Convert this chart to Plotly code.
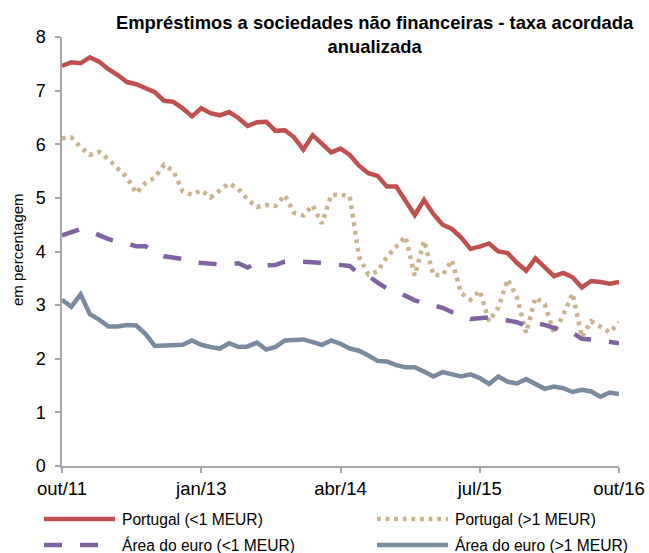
import plotly.graph_objects as go

# Monthly series, Oct 2011 - Oct 2016 (61 months)
month_abbr = ["jan", "fev", "mar", "abr", "mai", "jun",
              "jul", "ago", "set", "out", "nov", "dez"]
months = []
for k in range(61):
    m = (9 + k) % 12
    y = 11 + (9 + k) // 12
    months.append(f"{month_abbr[m]}/{y:02d}")

tick_labels = ["out/11", "jan/13", "abr/14", "jul/15", "out/16"]

pt_small = [7.46, 7.53, 7.51, 7.62, 7.54, 7.40, 7.29, 7.16, 7.12, 7.05,
            6.97, 6.81, 6.79, 6.67, 6.52, 6.67, 6.58, 6.54, 6.60, 6.49,
            6.34, 6.41, 6.42, 6.25, 6.26, 6.13, 5.90, 6.17, 6.00, 5.85,
            5.92, 5.80, 5.60, 5.46, 5.41, 5.21, 5.21, 4.94, 4.68, 4.96,
            4.70, 4.50, 4.42, 4.26, 4.05, 4.09, 4.15, 4.00, 3.97, 3.79,
            3.64, 3.87, 3.69, 3.54, 3.60, 3.52, 3.33, 3.45, 3.43, 3.40,
            3.43]

pt_large = [6.11, 6.13, 5.95, 5.80, 5.86, 5.72, 5.55, 5.38, 5.09, 5.28,
            5.38, 5.62, 5.50, 5.12, 5.06, 5.14, 5.01, 5.13, 5.27, 5.17,
            4.97, 4.83, 4.87, 4.85, 5.05, 4.72, 4.67, 4.86, 4.52, 5.05,
            5.06, 5.03, 3.90, 3.57, 3.63, 3.90, 4.09, 4.28, 3.55, 4.20,
            3.56, 3.56, 3.84, 3.22, 3.10, 3.27, 2.70, 2.95, 3.48, 3.15,
            2.48, 3.14, 3.02, 2.48, 2.82, 3.22, 2.40, 2.70, 2.60, 2.49,
            2.68]

ea_small = [4.30, 4.36, 4.42, 4.38, 4.30, 4.23, 4.19, 4.14, 4.10, 4.10,
            3.98, 3.91, 3.89, 3.86, 3.80, 3.78, 3.78, 3.76, 3.76, 3.78,
            3.70, 3.80, 3.74, 3.75, 3.81, 3.82, 3.81, 3.80, 3.78, 3.75,
            3.74, 3.73, 3.58, 3.54, 3.42, 3.31, 3.26, 3.18, 3.09, 3.04,
            3.00, 2.95, 2.87, 2.83, 2.74, 2.76, 2.77, 2.75, 2.72, 2.68,
            2.61, 2.67, 2.63, 2.57, 2.52, 2.48, 2.37, 2.36, 2.34, 2.31,
            2.29]

ea_large = [3.10, 2.97, 3.20, 2.83, 2.73, 2.60, 2.60, 2.63, 2.62, 2.46,
            2.24, 2.25, 2.26, 2.26, 2.34, 2.26, 2.22, 2.19, 2.29, 2.22,
            2.23, 2.30, 2.17, 2.22, 2.34, 2.36, 2.36, 2.31, 2.26, 2.34,
            2.28, 2.19, 2.15, 2.06, 1.96, 1.95, 1.88, 1.84, 1.84, 1.76,
            1.67, 1.75, 1.72, 1.67, 1.71, 1.64, 1.53, 1.67, 1.57, 1.54,
            1.62, 1.53, 1.44, 1.48, 1.45, 1.38, 1.42, 1.39, 1.29, 1.37,
            1.34]

series = [
    ("Portugal (<1 MEUR)", pt_small, "#C0504D", "solid"),
    ("Portugal (>1 MEUR)", pt_large, "#C9B48E", "3.8px,4.8px"),
    ("Área do euro (<1 MEUR)", ea_small, "#8064A2", "18px,18px"),
    ("Área do euro (>1 MEUR)", ea_large, "#7A8BA0", "solid"),
]

FONT = "Liberation Sans, Arial, sans-serif"
W, H = 649, 553
L, R, T, B = 62, 30, 37, 87
PW, PH = W - L - R, H - T - B


def px_x(px):
    return (px - L) / PW


def px_y(py):
    return (H - B - py) / PH


fig = go.Figure()
for name, vals, color, dash in series:
    fig.add_trace(go.Scatter(
        x=months, y=vals, name=name, mode="lines",
        line=dict(color=color, width=4.5, dash=dash),
    ))

# Legend drawn as two columns of line samples and labels
legend_pos = [(44, 115, 120, 519), (377, 448, 453, 519),
              (44, 115, 120, 545), (377, 448, 453, 545)]
shapes = []
annotations = []
for (name, _, color, dash), (x0, x1, xt, yy) in zip(series, legend_pos):
    shapes.append(dict(type="line", xref="paper", yref="paper",
                       x0=px_x(x0), x1=px_x(x1), y0=px_y(yy), y1=px_y(yy),
                       line=dict(color=color, width=4.5, dash=dash)))
    annotations.append(dict(text=name, xref="paper", yref="paper",
                            x=px_x(xt), y=px_y(yy), xanchor="left",
                            yanchor="middle", showarrow=False,
                            font=dict(family=FONT, size=15.6, color="black")))

annotations.append(dict(
    text="<b>Empréstimos a sociedades não financeiras - taxa acordada<br>anualizada</b>",
    xref="paper", yref="paper", x=px_x(375), y=px_y(10),
    xanchor="center", yanchor="top", showarrow=False,
    font=dict(family=FONT, size=18.4, color="black")))

annotations.append(dict(
    text="em percentagem", xref="paper", yref="paper",
    x=px_x(18), y=px_y(250), textangle=-90,
    xanchor="center", yanchor="middle", showarrow=False,
    font=dict(family=FONT, size=15, color="black")))

axis_gray = "#A6A6A6"
fig.update_layout(
    width=W, height=H,
    margin=dict(l=L, r=R, t=T, b=B, autoexpand=False),
    paper_bgcolor="white", plot_bgcolor="white",
    showlegend=False,
    shapes=shapes, annotations=annotations,
    font=dict(family=FONT, size=18, color="black"),
    xaxis=dict(type="category", categoryorder="array", categoryarray=months,
               range=[0, 60], tickvals=tick_labels, ticktext=tick_labels,
               automargin=False,
               showgrid=False, zeroline=False, showline=True,
               linecolor=axis_gray, linewidth=1.5, ticks="outside",
               ticklen=5, tickcolor=axis_gray, tickwidth=1.5,
               tickfont=dict(family=FONT, size=18.5, color="black")),
    yaxis=dict(range=[0, 8], dtick=1, showgrid=False, zeroline=False,
               automargin=False,
               showline=True, linecolor=axis_gray, linewidth=1.5,
               ticks="outside", ticklen=5, tickcolor=axis_gray, tickwidth=1.5,
               ticklabelstandoff=6,
               tickfont=dict(family=FONT, size=18, color="black")),
)

fig.write_html("out.html")
